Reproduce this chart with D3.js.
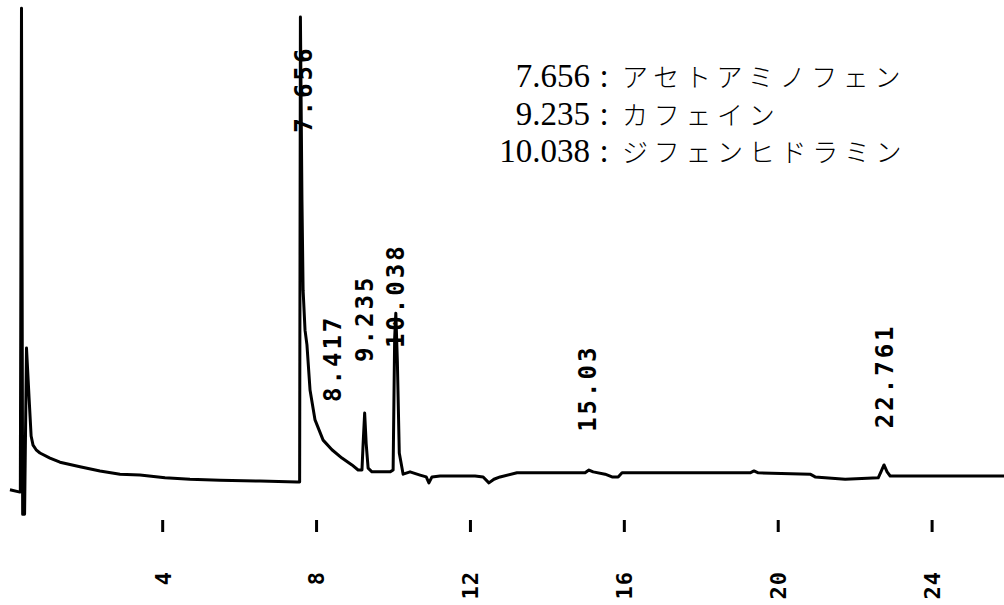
<!DOCTYPE html>
<html>
<head>
<meta charset="utf-8">
<script src="https://cdn.jsdelivr.net/npm/d3@7"></script>
<style>
  body { margin: 0; background: #fff; }
  .peak { font-family: "DejaVu Sans Mono", monospace; font-weight: bold; font-size: 24px; letter-spacing: 3px; }
  .ticklabel { font-family: "DejaVu Sans Mono", monospace; font-weight: bold; font-size: 22px; letter-spacing: 1px; }
  .legend { font-family: "Liberation Serif", serif; font-size: 33px; }
  .legend .jp { font-family: "Noto Sans CJK JP", sans-serif; font-weight: 300; font-size: 26px; letter-spacing: 5.7px; }
</style>
</head>
<body>
<svg id="chrom" width="1004" height="605"></svg>
<script>
// retention time (min) / detector signal
let timeMin = [0.03, 0.29, 0.30, 0.33, 0.36, 0.41, 0.46, 0.53, 0.58, 0.63, 0.71, 0.81, 1.07, 1.33, 1.85, 2.37, 2.89, 3.41, 4.06, 4.71, 5.49, 6.53, 7.49,
  7.56, 7.58, 7.62, 7.65, 7.70, 7.75, 7.83, 7.96, 8.17, 8.40, 8.66, 8.92, 9.08, 9.18,
  9.21, 9.25, 9.29, 9.34, 9.44, 9.65, 9.91, 9.99, 10.03, 10.06, 10.10, 10.15, 10.25,
  10.43, 10.69, 10.85, 10.92, 11.00, 11.21, 12.12, 12.33, 12.48, 12.61, 12.77, 13.21,
  14.98, 15.08, 15.19, 15.50, 15.68, 15.84, 15.94, 19.27, 19.37, 19.48, 20.83, 20.96,
  21.74, 22.60, 22.67, 22.75, 22.83, 22.91, 25.87]
let signal = [-3.0, -3.5, -3.5, 101.7, -8.3, -8.3, 27.8, 16.5, 8.7, 6.7, 5.7, 5.0, 3.9, 3.0, 2.0, 1.1, 0.4, 0.2, -0.4, -0.7, -0.9, -1.1, -1.3,
  -1.3, 99.8, 60.0, 40.4, 31.7, 28.5, 18.7, 12.2, 7.8, 5.7, 3.9, 2.4, 1.3, 1.3,
  7.0, 13.7, 7.0, 1.7, 0.9, 0.9, 0.9, 1.3, 30.0, 35.4, 25.0, 5.0, 0.4,
  0.9, 0.2, -0.2, -1.5, -0.2, 0.0, 0.0, -0.2, -1.5, -0.7, -0.2, 0.7,
  0.7, 1.3, 0.9, 0.4, -0.2, -0.2, 0.7, 0.7, 1.1, 0.7, 0.4, -0.2,
  -0.7, -0.4, 0.9, 2.4, 0.9, 0.0, 0.0]

let peakTimes = [7.656, 8.417, 9.235, 10.038, 15.03, 22.761]
let peakLabels = ['7.656', '8.417', '9.235', '10.038', '15.03', '22.761']
let peakLabelLevel = [74.6, 16.1, 24.8, 27.8, 9.6, 10.4]

let tickValues = [4, 8, 12, 16, 20, 24]

let legendTimes = ['7.656', '9.235', '10.038']
let legendNames = ['アセトアミノフェン', 'カフェイン', 'ジフェンヒドラミン']

let svg = d3.select('#chrom')

let x = d3.scaleLinear().domain([0, 24]).range([8.8, 932.1])
let y = d3.scaleLinear().domain([0, 100]).range([476, 16])

let data = timeMin.map((t, i) => ({x: t, y: signal[i]}))

let line = d3.line()
    .x(d => x(d.x))
    .y(d => y(d.y))

svg.append('path')
    .datum(data)
    .attr('d', line)
    .attr('fill', 'none')
    .attr('stroke', '#000')
    .attr('stroke-width', 3)
    .attr('stroke-linejoin', 'round')

// peak labels printed by the integrator
svg.append('g')
    .selectAll('text')
    .data(peakTimes)
    .join('text')
    .attr('class', 'peak')
    .attr('transform', (d, i) => 'translate(' + x(d) + ',' + y(peakLabelLevel[i]) + ') rotate(-90)')
    .attr('dy', '0.36em')
    .attr('text-anchor', 'start')
    .text((d, i) => peakLabels[i])

// time axis: short tick marks only, no axis line
let ticks = svg.append('g')
    .selectAll('g')
    .data(tickValues)
    .join('g')
    .attr('transform', d => 'translate(' + x(d) + ',520)')
ticks.append('rect')
    .attr('x', -1.5)
    .attr('y', 0)
    .attr('width', 3)
    .attr('height', 12)
    .attr('fill', '#000')
ticks.append('text')
    .attr('class', 'ticklabel')
    .attr('transform', 'rotate(-90)')
    .attr('x', -51)
    .attr('y', 0)
    .attr('dy', '0.36em')
    .attr('text-anchor', 'end')
    .text(d => d)

// legend
let leg = svg.append('g').attr('class', 'legend')
legendTimes.forEach((t, i) => {
    let by = 87 + i * 37.5
    leg.append('text').attr('x', 590).attr('y', by).attr('text-anchor', 'end').text(t)
    leg.append('text').attr('x', 604).attr('y', by).attr('text-anchor', 'middle').text(':')
    leg.append('text').attr('class', 'jp').attr('x', 622).attr('y', by).text(legendNames[i])
})
</script>
</body>
</html>
